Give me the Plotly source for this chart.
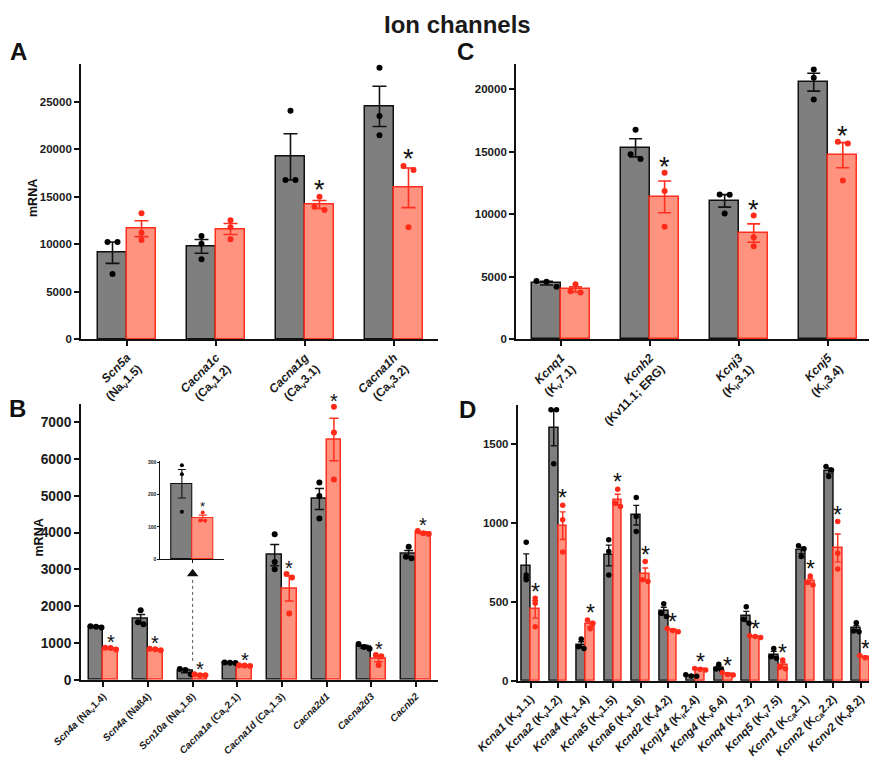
import plotly.graph_objects as go
import numpy as np

W, H = 869, 758

# ---------------- data ----------------
catsA = ["<i>Scn5a</i><br>(Na<sub>v</sub>1.5)", "<i>Cacna1c</i><br>(Ca<sub>v</sub>1.2)",
         "<i>Cacna1g</i><br>(Ca<sub>v</sub>3.1)", "<i>Cacna1h</i><br>(Ca<sub>v</sub>3.2)"]
ctrlA = [[10210, 10210, 6840], [10840, 10030, 8390], [24030, 16740, 16740], [28560, 23470, 21440]]
trtA = [[13230, 11190, 10420], [12490, 11750, 10490], [14980, 13930, 13580], [18210, 17790, 11750]]
sigA = [False, False, True, True]

catsC = ["<i>Kcnq1</i><br>(K<sub>v</sub>7.1)", "<i>Kcnh2</i><br>(Kv11.1; ERG)",
         "<i>Kcnj3</i><br>(K<sub>ir</sub>3.1)", "<i>Kcnj5</i><br>(K<sub>ir</sub>3.4)"]
ctrlC = [[4650, 4600, 4200], [16740, 14780, 14400], [11580, 11550, 10060], [21560, 20900, 19170]]
trtC = [[4390, 3830, 3730], [13310, 11850, 8990], [9900, 8150, 7430], [15780, 15650, 12700]]
sigC = [False, True, True, True]

catsB = ["<i>Scn4a</i> (Na<sub>v</sub>1.4)", "<i>Scn4a</i> (Naß4)", "<i>Scn10a</i> (Na<sub>v</sub>1.8)",
         "<i>Cacna1a</i> (Ca<sub>v</sub>2.1)", "<i>Cacna1d</i> (Ca<sub>v</sub>1.3)", "<i>Cacna2d1</i>",
         "<i>Cacna2d3</i>", "<i>Cacnb2</i>"]
ctrlB = [[1450, 1440, 1420], [1890, 1560, 1510], [292, 264, 147], [470, 460, 455],
         [3950, 3200, 3000], [5360, 4990, 4380], [970, 890, 840], [3610, 3340, 3300]]
trtB = [[870, 860, 820], [840, 830, 800], [145, 120, 119], [390, 385, 370],
        [2870, 2780, 1800], [7420, 6720, 5440], [670, 640, 400], [4040, 3980, 3960]]
sigB = [True] * 8

catsD = ["<i>Kcna1</i> (K<sub>v</sub>1.1)", "<i>Kcna2</i> (K<sub>v</sub>1.2)", "<i>Kcna4</i> (K<sub>v</sub>1.4)",
         "<i>Kcna5</i> (K<sub>v</sub>1.5)", "<i>Kcna6</i> (K<sub>v</sub>1.6)", "<i>Kcnd2</i> (K<sub>v</sub>4.2)",
         "<i>Kcnj14</i> (K<sub>ir</sub>2.4)", "<i>Kcng4</i> (K<sub>v</sub>6.4)", "<i>Kcnq4</i> (K<sub>v</sub>7.2)",
         "<i>Kcnq5</i> (K<sub>v</sub>7.5)", "<i>Kcnn1</i> (K<sub>Ca</sub>2.1)", "<i>Kcnn2</i> (K<sub>Ca</sub>2.2)",
         "<i>Kcnv2</i> (K<sub>v</sub>8.2)"]
ctrlD = [[879, 671, 640], [1720, 1720, 1377], [265, 215, 205], [894, 820, 671], [1163, 1042, 947],
         [489, 428, 407], [38, 30, 28], [104, 74, 68], [470, 390, 364], [205, 152, 142],
         [856, 837, 788], [1360, 1338, 1296], [368, 316, 311]]
trtD = [[523, 491, 343], [1114, 1021, 817], [385, 365, 330], [1216, 1127, 1105], [756, 640, 629],
        [332, 318, 311], [78, 72, 68], [52, 40, 36], [285, 280, 275], [131, 85, 76],
        [665, 623, 608], [1010, 809, 709], [160, 145, 140]]
sigD = [True] * 13

# inset (Scn10a zoom)
catsI = [""]
ctrlI = [[292, 264, 147]]
trtI = [[145, 120, 119]]
sigI = [True]

# ---------------- style ----------------
GRAY_FILL, GRAY_LINE = "#7f7f7f", "#111111"
RED_FILL, RED_LINE, RED_PT = "#ff937f", "#ff2e1f", "#ff2a1a"
FONT = "Liberation Sans, Arial, sans-serif"
BW = 0.326

# panel geometry in pixels: x0,x1 (left,right), ybot,ytop
panels = [
    dict(name="A", ax="", cats=catsA, ctrl=ctrlA, trt=trtA, sig=sigA, x=(81, 438.3), y=(339, 63.5),
         xr=(-0.517, 3.498), yr=(0, 29000), dtick=5000, tf=11.5, lf=12, cap=7, ms=6, sf=27, sy=11, eth=1.6),
    dict(name="C", ax="2", cats=catsC, ctrl=ctrlC, trt=trtC, sig=sigC, x=(516, 869), y=(339.3, 64),
         xr=(-0.505, 3.457), yr=(0, 22000), dtick=5000, tf=11.5, lf=12, cap=6.5, ms=6, sf=27, sy=10, eth=1.6),
    dict(name="B", ax="3", cats=catsB, ctrl=ctrlB, trt=trtB, sig=sigB, x=(81, 437.7), y=(679.7, 403.7),
         xr=(-0.499, 7.486), yr=(0, 7500), dtick=1000, tf=13.8, lf=10, cap=4.5, ms=6, sf=20, sy=8, eth=1.5),
    dict(name="D", ax="4", cats=catsD, ctrl=ctrlD, trt=trtD, sig=sigD, x=(517.7, 869), y=(680.7, 405),
         xr=(-0.473, 12.30), yr=(0, 1750), dtick=500, tf=11.5, lf=11.5, cap=3, ms=5.5, sf=23, sy=10, eth=1.4),
    dict(name="I", ax="5", cats=catsI, ctrl=ctrlI, trt=trtI, sig=sigI, x=(160.3, 224.3), y=(559, 461),
         xr=(-0.5, 0.5), yr=(0, 305), dtick=100, tf=5, lf=5, cap=4, ms=4, sf=13, sy=6, eth=1.1),
]


def jitter(vals, ppu, sep_px, thr_px):
    order = sorted(range(len(vals)), key=lambda k: -vals[k])
    clusters = []
    for k in order:
        if clusters and abs(vals[clusters[-1][-1]] - vals[k]) * ppu < thr_px:
            clusters[-1].append(k)
        else:
            clusters.append([k])
    off = [0.0] * len(vals)
    for c in clusters:
        n = len(c)
        for j, k in enumerate(c):
            off[k] = (j - (n - 1) / 2) * sep_px
    return off


fig = go.Figure()
layout = dict(width=W, height=H, margin=dict(l=0, r=0, t=0, b=0), showlegend=False,
              paper_bgcolor="white", plot_bgcolor="white", font=dict(family=FONT, color="#1a1a1a"),
              bargap=0, barmode="overlay")
annotations = []
shapes = []

for p in panels:
    ax = p["ax"]
    xref, yref = "x" + ax, "y" + ax
    n = len(p["cats"])
    idx = list(range(n))
    x0, x1 = p["x"]
    yb, yt = p["y"]
    ppc = (x1 - x0) / (p["xr"][1] - p["xr"][0])      # px per category
    ppu = (yb - yt) / (p["yr"][1] - p["yr"][0])      # px per unit
    inset = p["name"] == "I"
    lw = 1.1 if inset else 1.8
    for grp, vals, fill, line, ptc, off in [("c", p["ctrl"], GRAY_FILL, GRAY_LINE, "#000000", -BW),
                                             ("t", p["trt"], RED_FILL, RED_LINE, RED_PT, 0.0)]:
        arr = np.array(vals, dtype=float)
        means = arr.mean(axis=1)
        sem = arr.std(axis=1, ddof=1) / np.sqrt(arr.shape[1])
        fig.add_trace(go.Bar(x=idx, y=means, width=BW, offset=off, xaxis=xref, yaxis=yref,
                             marker=dict(color=fill, line=dict(color=line, width=1.1 if inset else 1.5)),
                             error_y=dict(type="data", array=sem, color=line if grp == "c" else RED_LINE,
                                          thickness=p["eth"], width=p["cap"])))
        center = off + BW / 2
        xs, ys = [], []
        sep = 10 if p["name"] in ("A", "C") else (5.5 if p["name"] in ("B", "D") else 5)
        for i, row in enumerate(vals):
            o = jitter(row, ppu, sep, 5.5 if p["name"] in ("A", "C") else 4.5)
            for v, d in zip(row, o):
                xs.append(i + center + d / ppc)
                ys.append(v)
        fig.add_trace(go.Scatter(x=xs, y=ys, mode="markers", xaxis=xref, yaxis=yref,
                                 marker=dict(color=ptc, size=p["ms"], line=dict(width=0))))
        if grp == "t":
            for i, row in enumerate(vals):
                if p["sig"][i]:
                    top = max(max(row), means[i] + sem[i])
                    annotations.append(dict(x=i + center, y=top, xref=xref, yref=yref, text="*",
                                            showarrow=False, yanchor="middle",
                                            yshift=p["sy"] - 0.27 * p["sf"] + 3,
                                            font=dict(size=p["sf"], color="#111111", family=FONT)))
    xdom = [x0 / W, min(x1 / W, 1.0)]
    ydom = [1 - yb / H, 1 - yt / H]
    layout["xaxis" + ax] = dict(domain=xdom, range=list(p["xr"]), anchor=yref, tickmode="array",
                                tickvals=idx, ticktext=p["cats"], tickangle=-45 if not inset else 0,
                                showticklabels=not inset,
                                tickfont=dict(size=p["lf"], family=FONT, weight="bold", color="#1a1a1a"),
                                ticks="outside", ticklen=3 if inset else 5, tickwidth=lw, tickcolor="#111111",
                                showline=True, linecolor="#111111", linewidth=lw, showgrid=False,
                                zeroline=False, automargin=False, fixedrange=True)
    layout["yaxis" + ax] = dict(domain=ydom, range=list(p["yr"]), anchor=xref, dtick=p["dtick"], tick0=0,
                                tickformat="d",
                                tickfont=dict(size=p["tf"], family=FONT, weight="bold", color="#1a1a1a"),
                                ticks="outside", ticklen=2 if inset else 5, tickwidth=lw, tickcolor="#111111",
                                showline=True, linecolor="#111111", linewidth=lw, showgrid=False,
                                zeroline=False, automargin=False, fixedrange=True)

# arrow from Scn10a to inset
fig.add_trace(go.Scatter(x=[2], y=[2880], mode="markers", xaxis="x3", yaxis="y3",
                         marker=dict(symbol="triangle-up", size=10, color="#111111")))
shapes.append(dict(type="line", xref="x3", yref="y3", x0=2, x1=2, y0=510, y1=2780,
                   line=dict(color="#555555", width=1, dash="dot")))

# title, letters, y-titles
annotations += [
    dict(x=457.5 / W, y=1 - 24.5 / H, xref="paper", yref="paper", text="<b>Ion channels</b>", showarrow=False,
         xanchor="center", yanchor="middle", font=dict(size=24, family=FONT, color="#1a1a1a")),
    dict(x=18.8 / W, y=1 - 51.5 / H, xref="paper", yref="paper", text="<b>A</b>", showarrow=False,
         xanchor="center", yanchor="middle", font=dict(size=24, family=FONT, color="#111111")),
    dict(x=466 / W, y=1 - 51.5 / H, xref="paper", yref="paper", text="<b>C</b>", showarrow=False,
         xanchor="center", yanchor="middle", font=dict(size=24, family=FONT, color="#111111")),
    dict(x=17.5 / W, y=1 - 408 / H, xref="paper", yref="paper", text="<b>B</b>", showarrow=False,
         xanchor="center", yanchor="middle", font=dict(size=24, family=FONT, color="#111111")),
    dict(x=467 / W, y=1 - 409 / H, xref="paper", yref="paper", text="<b>D</b>", showarrow=False,
         xanchor="center", yanchor="middle", font=dict(size=24, family=FONT, color="#111111")),
    dict(x=33 / W, y=1 - 198 / H, xref="paper", yref="paper", text="<b>mRNA</b>", showarrow=False,
         textangle=-90, xanchor="center", yanchor="middle", font=dict(size=12.5, family=FONT, color="#111111")),
    dict(x=38 / W, y=1 - 537.5 / H, xref="paper", yref="paper", text="<b>mRNA</b>", showarrow=False,
         textangle=-90, xanchor="center", yanchor="middle", font=dict(size=12.5, family=FONT, color="#111111")),
]
layout["annotations"] = annotations
layout["shapes"] = shapes
fig.update_layout(**layout)
fig.write_html("out.html")
